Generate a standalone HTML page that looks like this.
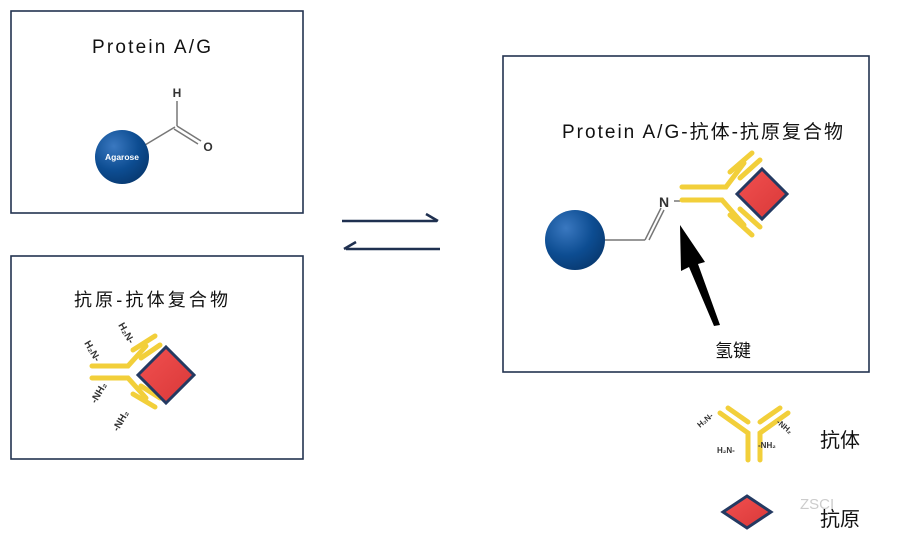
<!DOCTYPE html>
<html><head><meta charset="utf-8"><style>
body{margin:0;background:#fff}
svg{display:block;font-family:"Liberation Sans","Noto Sans CJK SC",sans-serif}
</style></head><body>
<svg width="898" height="540" viewBox="0 0 898 540" xmlns="http://www.w3.org/2000/svg">
<defs>
<radialGradient id="g" cx="0.35" cy="0.3" r="0.75"><stop offset="0" stop-color="#3a78c0"/><stop offset="0.6" stop-color="#0d4d92"/><stop offset="1" stop-color="#083a72"/></radialGradient>
<linearGradient id="r" x1="0" y1="0" x2="1" y2="1"><stop offset="0" stop-color="#f25050"/><stop offset="1" stop-color="#d83838"/></linearGradient>
</defs>
<g fill="none" stroke="#233350" stroke-width="1.6">
<rect x="11" y="11" width="292" height="202"/>
<rect x="11" y="256" width="292" height="203"/>
<rect x="503" y="56" width="366" height="316"/>
</g>
<g stroke="#1f3050" stroke-width="2.5" fill="none">
<line x1="342" y1="221" x2="437" y2="221"/><polyline points="426,214 438,221"/>
<line x1="346" y1="249" x2="440" y2="249"/><polyline points="356,242 344,249"/>
</g>
<!-- box1 -->
<text x="92" y="53" font-size="19" textLength="119" fill="#111">Protein A/G</text>
<g stroke="#777" stroke-width="1.5" fill="none">
<line x1="140" y1="148" x2="175" y2="127"/><line x1="177" y1="101" x2="177" y2="126"/><line x1="177" y1="126" x2="201" y2="141"/><line x1="174" y1="129" x2="198" y2="144"/>
</g>
<text x="177" y="97" font-size="12" font-weight="bold" text-anchor="middle" fill="#333">H</text>
<text x="208" y="151" font-size="12" font-weight="bold" text-anchor="middle" fill="#333">O</text>
<circle cx="122" cy="157" r="27" fill="url(#g)"/>
<text x="122" y="160" font-size="8.5" font-weight="bold" text-anchor="middle" fill="#fff">Agarose</text>
<!-- box3 -->
<text x="562" y="138" font-size="19" textLength="281" fill="#111">Protein A/G-抗体-抗原复合物</text>
<g stroke="#777" stroke-width="1.5" fill="none">
<line x1="604" y1="240" x2="645" y2="240"/><line x1="645" y1="240" x2="661" y2="208"/><line x1="649" y1="240" x2="664" y2="210"/><line x1="674" y1="201" x2="680" y2="201"/>
</g>
<text x="664" y="207" font-size="14" font-weight="bold" text-anchor="middle" fill="#333">N</text>
<circle cx="575" cy="240" r="30" fill="url(#g)"/>
<g stroke="#f2cf3a" stroke-width="5" fill="none" stroke-linecap="round">
<polyline points="682,187 726,187 744,163"/><polyline points="682,200 722,200 744,225"/>
<line x1="730" y1="172" x2="752" y2="153"/><line x1="740" y1="178" x2="760" y2="160"/>
<line x1="730" y1="215" x2="752" y2="235"/><line x1="740" y1="209" x2="760" y2="227"/>
</g>
<polygon points="762,169 787,194 762,219 737,194" fill="url(#r)" stroke="#243a62" stroke-width="3"/>
<polygon points="680,225 705,262 698,264 720,325 714,326 689,267 681,271" fill="#000"/>
<text x="715" y="357" font-size="18" fill="#111">氢键</text>
<!-- box2 -->
<text x="74" y="306" font-size="18" textLength="154" fill="#111">抗原-抗体复合物</text>
<g stroke="#f2cf3a" stroke-width="5" fill="none" stroke-linecap="round">
<polyline points="92,366 128,366 146,346"/><polyline points="92,378 128,378 146,398"/>
<line x1="133" y1="350" x2="155" y2="336"/><line x1="141" y1="358" x2="160" y2="345"/>
<line x1="133" y1="394" x2="155" y2="407"/><line x1="141" y1="386" x2="160" y2="398"/>
</g>
<polygon points="166,347 194,375 166,403 138,375" fill="url(#r)" stroke="#243a62" stroke-width="3"/>
<g font-size="10" font-weight="bold" fill="#333">
<text x="118" y="325" transform="rotate(60 118 325)">H₂N-</text>
<text x="84" y="343" transform="rotate(60 84 343)">H₂N-</text>
<text x="96" y="404" transform="rotate(-60 96 404)">-NH₂</text>
<text x="118" y="432" transform="rotate(-60 118 432)">-NH₂</text>
</g>
<!-- legend -->
<g stroke="#f2cf3a" stroke-width="5" fill="none" stroke-linecap="round">
<polyline points="720,413 748,433 748,460"/><polyline points="788,413 760,433 760,460"/>
<line x1="728" y1="408" x2="748" y2="422"/><line x1="780" y1="408" x2="760" y2="422"/>
</g>
<g font-size="8" font-weight="bold" fill="#333">
<text x="700" y="428" transform="rotate(-40 700 428)">H₂N-</text>
<text x="717" y="453">H₂N-</text><text x="758" y="448">-NH₂</text>
<text x="776" y="423" transform="rotate(40 776 423)">-NH₂</text>
</g>
<text x="820" y="447" font-size="20" fill="#111">抗体</text>
<polygon points="747,496 771,512 747,528 723,512" fill="url(#r)" stroke="#243a62" stroke-width="3"/>
<text x="800" y="509" font-size="15" fill="#ccc">ZSCI</text>
<text x="820" y="526" font-size="20" fill="#111">抗原</text>
</svg>
</body></html>
